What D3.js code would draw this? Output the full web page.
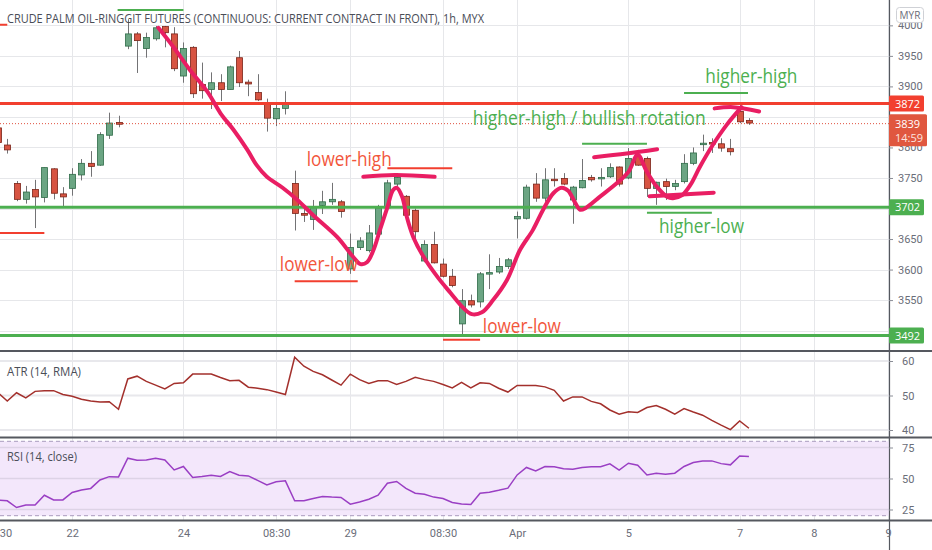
<!DOCTYPE html>
<html>
<head>
<meta charset="utf-8">
<script src="https://cdn.jsdelivr.net/npm/d3@7"></script>
<style>
body { margin: 0; background: #fff; }
svg text { font-family: "Open Sans", sans-serif; }
.axis text { font-family: Roboto, sans-serif; font-size: 11px; fill: #6a6d78; }
.axis .domain { display: none; }
.axis line { stroke: #8a8d96; }
</style>
</head>
<body>
<div id="chart"></div>
<script>
// hourly bars, bar index 0 = first (cut) bar on the left
var opens  = [3832,3804,3741,3715,3731,3718,3765,3724,3733,3755,3774,3771,3820,3841,3966,3986,3962,3978,3998,3986,
              3917,3964,3903,3895,3906,3895,3947,3907,3890,3873,3847,3864,3741,3692,3682,3705,3711,3711,3601,3636,
              3631,3658,3701,3740,3720,3697,3614,3641,3609,3589,3511,3549,3547,3593,3596,3605,3683,3684,3740,3717,
              3748,3749,3714,3734,3751,3750,3752,3768,3750,3785,3782,3733,3744,3736,3744,3774,3805,3808,3806,3798,
              3859,3844];
var highs  = [3840,3814,3745,3737,3747,3767,3766,3735,3766,3781,3794,3825,3857,3852,4010,3989,3988,3999,3999,3997,
              3972,3966,3939,3923,3920,3934,3958,3911,3920,3880,3873,3892,3762,3703,3714,3729,3742,3714,3659,3653,
              3673,3706,3747,3758,3722,3700,3648,3662,3618,3601,3568,3559,3596,3625,3619,3619,3695,3739,3758,3766,
              3766,3758,3737,3781,3755,3766,3774,3769,3799,3796,3785,3744,3749,3747,3789,3800,3821,3815,3815,3814,
              3873,3848];
var lows   = [3800,3790,3712,3708,3668,3710,3715,3703,3721,3746,3752,3770,3814,3833,3961,3922,3947,3975,3964,3925,
              3906,3881,3880,3863,3876,3895,3899,3884,3876,3826,3835,3854,3664,3678,3665,3691,3706,3685,3593,3632,
              3628,3653,3697,3736,3684,3651,3612,3610,3587,3571,3494,3538,3538,3568,3593,3601,3651,3682,3711,3711,
              3736,3738,3675,3733,3744,3736,3750,3736,3748,3770,3719,3706,3714,3730,3741,3771,3794,3791,3793,3787,
              3840,3837];
var closes = [3808,3796,3715,3727,3719,3767,3725,3719,3756,3774,3769,3821,3840,3838,3986,3975,3980,3996,3988,3929,
              3962,3888,3893,3906,3895,3932,3906,3904,3878,3848,3864,3872,3692,3689,3703,3711,3715,3695,3636,3647,
              3660,3701,3742,3751,3689,3662,3641,3611,3589,3574,3549,3542,3593,3595,3605,3616,3687,3735,3717,3747,
              3747,3740,3735,3746,3747,3751,3767,3740,3782,3771,3733,3743,3736,3741,3774,3791,3807,3806,3799,3793,
              3842,3840];

var atrValues = [50.8,48.4,50.8,49.3,51.2,51.4,51.4,50.3,49.8,48.9,48.4,48.1,48.2,46.0,54.8,55.6,54.1,53.0,51.9,53.5,
                 53.7,56.2,56.2,56.2,55.2,54.3,54.4,52.4,52.1,51.7,51.0,50.3,61.1,58.5,57.0,56.0,54.5,53.0,56.2,54.6,
                 53.5,54.3,54.3,53.2,54.1,55.3,54.6,54.1,53.2,52.2,53.8,52.2,53.7,53.5,52.1,51.0,52.9,52.9,52.9,52.5,
                 51.5,48.4,49.6,49.6,48.3,47.6,45.8,44.6,45.3,45.1,46.5,47.1,46.0,44.6,46.2,45.2,44.3,42.8,41.4,40.1,
                 42.6,40.5];
var rsiValues = [32.7,32.0,26.6,28.7,28.7,36.5,32.7,32.7,38.7,40.8,42.0,48.8,51.5,51.3,66.4,64.8,65.0,66.4,65.0,56.9,
                 59.7,50.8,51.6,52.7,51.6,55.6,52.7,52.1,48.5,44.8,47.3,48.1,32.0,32.0,33.9,35.5,35.0,34.7,29.3,31.0,
                 33.3,36.5,46.2,47.6,42.0,38.1,37.3,35.0,33.9,30.6,29.5,29.0,38.1,39.0,40.5,42.2,52.9,58.9,56.1,59.7,
                 59.4,57.8,57.5,58.9,59.4,59.5,61.8,56.7,62.3,60.7,52.9,54.3,53.5,54.3,59.7,62.9,64.2,64.2,62.0,61.0,
                 68.2,67.7];

var timeTicks  = [0, 8, 20, 30, 38, 48, 56, 68, 80, 88, 96];
var timeLabels = ["08:30", "22", "24", "08:30", "29", "08:30", "Apr", "5", "7", "8", "9"];
var priceTicks = [3500, 3550, 3600, 3650, 3700, 3750, 3800, 3850, 3900, 3950, 4000];
var atrTicks = [40, 50, 60];
var rsiTicks = [25, 50, 75];
var rsiBand = [20, 80];

// drawings on the chart, in [bar index, price]
var resistance = 3872;
var supports = [3702, 3492];
var lastPrice = 3839;
var lastTime = "14:59";
var trendPath = [[17.3,3996],[18.9,3965],[20.7,3927],[22.6,3891],[24.0,3856],[25.4,3829],[26.9,3796],[27.9,3771],
  [29.0,3752],[30.7,3734],[32.3,3714],[34.0,3689],[36.6,3653],[38.3,3621],[39.1,3609],[39.8,3612],[40.5,3632],
  [41.2,3665],[42.0,3702],[42.6,3730],[43.0,3734],[43.6,3719],[44.1,3686],[44.8,3653],[45.9,3621],[47.4,3588],
  [48.8,3562],[50.2,3537],[51.1,3527],[52.2,3530],[53.4,3550],[54.9,3583],[56.3,3632],[57.7,3665],[58.8,3698],
  [59.9,3725],[60.8,3734],[61.5,3729],[62.2,3711],[62.8,3698],[63.4,3701],[64.9,3719],[66.8,3742],[68.0,3760],
  [69.0,3788],[70.0,3760],[71.1,3735],[72.2,3719],[72.8,3717],[73.8,3722],[74.7,3739],[75.7,3768],[77.1,3804],
  [78.6,3837],[80.2,3866]];
var trendCaps = [
  [[39.4,3752],[42.8,3755],[47.1,3752]],
  [[64.3,3784],[67.8,3790],[71.1,3797]],
  [[70.3,3720],[73.8,3723],[77.2,3726]],
  [[77.3,3864],[79.3,3866],[82.1,3859]]
];
var redMarks = [[0.2,5.0,3660],[0,1,4001],[32,38.8,3581],[42,49,3766],[48,52,3485]];
var greenMarks = [[12.9,20,4025],[63,70,3806],[70,77,3693],[74,80.9,3889]];
var redNotes = ["lower-high", "lower-low", "lower-low"];
var redNoteAt = [[33.3,3770],[30.4,3597],[52.3,3496]];
var greenNotes = ["higher-high / bullish rotation", "higher-low", "higher-high"];
var greenNoteAt = [[51.2,3837],[71.3,3660],[76.3,3906]];

var title = "CRUDE PALM OIL-RINGGIT FUTURES (CONTINUOUS: CURRENT CONTRACT IN FRONT), 1h, MYX";

var W = 932, H = 550, plotW = 889;
var noteWidth = {"lower-high": 85, "lower-low": 78, "higher-high / bullish rotation": 233, "higher-low": 85, "higher-high": 92};
var upFill = "#6ba583", upLine = "#2e6b47", downFill = "#d75442", downLine = "#7a2418", wickColor = "#737375";
var red = "#f23f2f", green = "#4caf50", pink = "#e91e63";

var x = d3.scaleLinear().domain([0, 96]).range([-2, 888]);
var yMain = d3.scaleLinear().domain([3492, 3872]).range([335.5, 103.5]);
var yAtr = d3.scaleLinear().domain([40, 60]).range([430, 361]);
var yRsi = d3.scaleLinear().domain([25, 75]).range([509.5, 447.5]);

var svg = d3.select("#chart").append("svg").attr("width", W).attr("height", H);
svg.append("rect").attr("width", W).attr("height", H).attr("fill", "#fff");

var defs = svg.append("defs");
defs.append("clipPath").attr("id", "clipMain").append("rect").attr("x", 0).attr("y", 0).attr("width", plotW).attr("height", 350);

// grid
var grid = svg.append("g");
grid.selectAll("line.v").data(timeTicks).enter().append("line")
  .attr("x1", function(d) { return Math.round(x(d)) + 0.5; })
  .attr("x2", function(d) { return Math.round(x(d)) + 0.5; })
  .attr("y1", 0).attr("y2", 520).attr("stroke", "#e6e7ea");
grid.selectAll("line.h").data(priceTicks).enter().append("line")
  .attr("x1", 0).attr("x2", plotW)
  .attr("y1", function(d) { return Math.round(yMain(d)) + 0.5; })
  .attr("y2", function(d) { return Math.round(yMain(d)) + 0.5; })
  .attr("stroke", "#e6e7ea");

// RSI background band
svg.append("rect").attr("x", 0).attr("width", plotW)
  .attr("y", yRsi(rsiBand[1])).attr("height", yRsi(rsiBand[0]) - yRsi(rsiBand[1]))
  .attr("fill", "#f3e7fb");
grid.selectAll("line.atr").data(atrTicks).enter().append("line")
  .attr("x1", 0).attr("x2", plotW).attr("y1", function(d) { return yAtr(d); }).attr("y2", function(d) { return yAtr(d); })
  .attr("stroke", "#e8e8ec").attr("stroke-width", 2);
svg.selectAll("line.rsig").data(rsiTicks).enter().append("line")
  .attr("x1", 0).attr("x2", plotW).attr("y1", function(d) { return yRsi(d); }).attr("y2", function(d) { return yRsi(d); })
  .attr("stroke", "#ddd3e6").attr("stroke-width", 1.5);
svg.selectAll("line.band").data(rsiBand).enter().append("line")
  .attr("x1", 0).attr("x2", plotW).attr("y1", function(d) { return yRsi(d); }).attr("y2", function(d) { return yRsi(d); })
  .attr("stroke", "#a99bbd").attr("stroke-dasharray", "4,3");

// candles
var main = svg.append("g").attr("clip-path", "url(#clipMain)");
var bars = d3.range(opens.length).map(function(i) {
  return { i: i, o: opens[i], h: highs[i], l: lows[i], c: closes[i] };
});
main.selectAll("line.wick").data(bars).enter().append("line")
  .attr("x1", function(d) { return Math.round(x(d.i)) + 0.5; })
  .attr("x2", function(d) { return Math.round(x(d.i)) + 0.5; })
  .attr("y1", function(d) { return yMain(d.h); })
  .attr("y2", function(d) { return yMain(d.l); })
  .attr("stroke", wickColor);
main.selectAll("rect.body").data(bars).enter().append("rect")
  .attr("x", function(d) { return Math.round(x(d.i)) - 2.5; })
  .attr("y", function(d) { return yMain(Math.max(d.o, d.c)); })
  .attr("width", 6)
  .attr("height", function(d) { return Math.max(1.5, Math.abs(yMain(d.o) - yMain(d.c))); })
  .attr("fill", function(d) { return d.c >= d.o ? upFill : downFill; })
  .attr("stroke", function(d) { return d.c >= d.o ? upLine : downLine; })
  .attr("stroke-width", 0.8);

// levels
main.append("line").attr("x1", 0).attr("x2", plotW).attr("y1", yMain(lastPrice)).attr("y2", yMain(lastPrice))
  .attr("stroke", "#e0523f").attr("stroke-dasharray", "1,2");
main.append("line").attr("x1", 0).attr("x2", plotW).attr("y1", yMain(resistance)).attr("y2", yMain(resistance))
  .attr("stroke", red).attr("stroke-width", 3);
main.selectAll("line.sup").data(supports).enter().append("line")
  .attr("x1", 0).attr("x2", plotW).attr("y1", function(d) { return yMain(d); }).attr("y2", function(d) { return yMain(d); })
  .attr("stroke", green).attr("stroke-width", 3);

// short marker lines
main.selectAll("line.rm").data(redMarks).enter().append("line")
  .attr("x1", function(d) { return x(d[0]); }).attr("x2", function(d) { return x(d[1]); })
  .attr("y1", function(d) { return yMain(d[2]); }).attr("y2", function(d) { return yMain(d[2]); })
  .attr("stroke", red).attr("stroke-width", 2);
main.selectAll("line.gm").data(greenMarks).enter().append("line")
  .attr("x1", function(d) { return x(d[0]); }).attr("x2", function(d) { return x(d[1]); })
  .attr("y1", function(d) { return yMain(d[2]); }).attr("y2", function(d) { return yMain(d[2]); })
  .attr("stroke", green).attr("stroke-width", 2);

// hand drawn trend
var penLine = d3.line()
  .x(function(d) { return x(d[0]); })
  .y(function(d) { return yMain(d[1]); })
  .curve(d3.curveCatmullRom.alpha(0.5));
main.append("path").attr("d", penLine(trendPath)).attr("fill", "none")
  .attr("stroke", pink).attr("stroke-width", 4).attr("stroke-linecap", "round").attr("stroke-linejoin", "round");
main.selectAll("path.cap").data(trendCaps).enter().append("path")
  .attr("d", function(d) { return penLine(d); }).attr("fill", "none")
  .attr("stroke", pink).attr("stroke-width", 4).attr("stroke-linecap", "round");

// notes
function addNotes(texts, at, color) {
  main.selectAll(null).data(texts).enter().append("text")
    .attr("x", function(d, i) { return x(at[i][0]); })
    .attr("y", function(d, i) { return yMain(at[i][1]); })
    .attr("font-size", 20)
    .attr("fill", color)
    .attr("textLength", function(d) { return noteWidth[d]; })
    .attr("lengthAdjust", "spacingAndGlyphs")
    .text(function(d) { return d; });
}
addNotes(redNotes, redNoteAt, "#f2563b");
addNotes(greenNotes, greenNoteAt, "#4caf50");

// title
svg.append("text").attr("x", 7).attr("y", 23).attr("font-size", 13).attr("fill", "#4a4d57")
  .attr("textLength", 477).attr("lengthAdjust", "spacingAndGlyphs").text(title);

// ATR and RSI lines
var atrLine = d3.line().x(function(d, i) { return x(i); }).y(function(d) { return yAtr(d); });
svg.append("path").attr("d", atrLine(atrValues)).attr("fill", "none").attr("stroke", "#a3302c").attr("stroke-width", 1.5);
var rsiLine = d3.line().x(function(d, i) { return x(i); }).y(function(d) { return yRsi(d); });
svg.append("path").attr("d", rsiLine(rsiValues)).attr("fill", "none").attr("stroke", "#9a3fc4").attr("stroke-width", 1.5);

svg.append("text").attr("x", 7).attr("y", 376).attr("font-size", 12).attr("fill", "#4a4d57")
  .attr("textLength", 74).attr("lengthAdjust", "spacingAndGlyphs").text("ATR (14, RMA)");
svg.append("text").attr("x", 7).attr("y", 461).attr("font-size", 12).attr("fill", "#4a4d57")
  .attr("textLength", 70).attr("lengthAdjust", "spacingAndGlyphs").text("RSI (14, close)");

// pane borders
svg.selectAll("line.sep").data([351, 437.5, 520.5]).enter().append("line")
  .attr("x1", 0).attr("x2", W).attr("y1", function(d) { return d; }).attr("y2", function(d) { return d; })
  .attr("stroke", "#55585f").attr("stroke-width", 2);
svg.append("line").attr("x1", plotW + 0.5).attr("x2", plotW + 0.5).attr("y1", 0).attr("y2", H)
  .attr("stroke", "#55585f").attr("stroke-width", 1.2);

// axes; labels sitting under a price badge are hidden like on the platform
var badgeLevels = [resistance, lastPrice].concat(supports);
var shownTicks = priceTicks.filter(function(t) {
  return !badgeLevels.some(function(b) { return Math.abs(yMain(t) - yMain(b)) < 9; });
});
svg.append("g").attr("class", "axis").attr("transform", "translate(" + plotW + ",0)")
  .call(d3.axisRight(yMain).tickValues(shownTicks).tickSize(4).tickPadding(5).tickFormat(d3.format("d")));
svg.append("g").attr("class", "axis").attr("transform", "translate(" + plotW + ",0)")
  .call(d3.axisRight(yAtr).tickValues(atrTicks).tickSize(4).tickPadding(9));
svg.append("g").attr("class", "axis").attr("transform", "translate(" + plotW + ",0)")
  .call(d3.axisRight(yRsi).tickValues(rsiTicks).tickSize(4).tickPadding(9));
svg.append("g").attr("class", "axis").attr("transform", "translate(0,521)")
  .call(d3.axisBottom(x).tickValues(timeTicks).tickSize(0).tickPadding(8)
    .tickFormat(function(d, i) { return timeLabels[i]; }));

// price badges
function badge(price, color) {
  var g = svg.append("g");
  g.append("rect").attr("x", plotW).attr("y", yMain(price) - 8).attr("width", 35).attr("height", 16)
    .attr("rx", 1.5).attr("fill", color);
  g.append("text").attr("x", plotW + 6).attr("y", yMain(price) + 4).attr("font-size", 11)
    .attr("font-family", "Roboto, sans-serif").attr("font-weight", 500).attr("fill", "#fff").text(price);
}
badge(resistance, red);
supports.forEach(function(p) { badge(p, green); });

var lb = svg.append("g");
lb.append("rect").attr("x", plotW).attr("y", yMain(lastPrice) - 9.5).attr("width", 38).attr("height", 32)
  .attr("rx", 1.5).attr("fill", "#e0573f");
lb.append("text").attr("x", plotW + 6).attr("y", yMain(lastPrice) + 4).attr("font-size", 11)
  .attr("font-family", "Roboto, sans-serif").attr("font-weight", 500).attr("fill", "#fff").text(lastPrice);
lb.append("text").attr("x", plotW + 6).attr("y", yMain(lastPrice) + 18).attr("font-size", 11)
  .attr("font-family", "Roboto, sans-serif").attr("fill", "#fde4df").text(lastTime);

// currency box
svg.append("rect").attr("x", 896.5).attr("y", 7.5).attr("width", 27).attr("height", 15).attr("rx", 3)
  .attr("fill", "#fff").attr("stroke", "#cfd1d6");
svg.append("text").attr("x", 910).attr("y", 19).attr("text-anchor", "middle").attr("font-size", 10)
  .attr("font-family", "Roboto, sans-serif").attr("fill", "#6a6d78").text("MYR");
</script>
</body>
</html>
